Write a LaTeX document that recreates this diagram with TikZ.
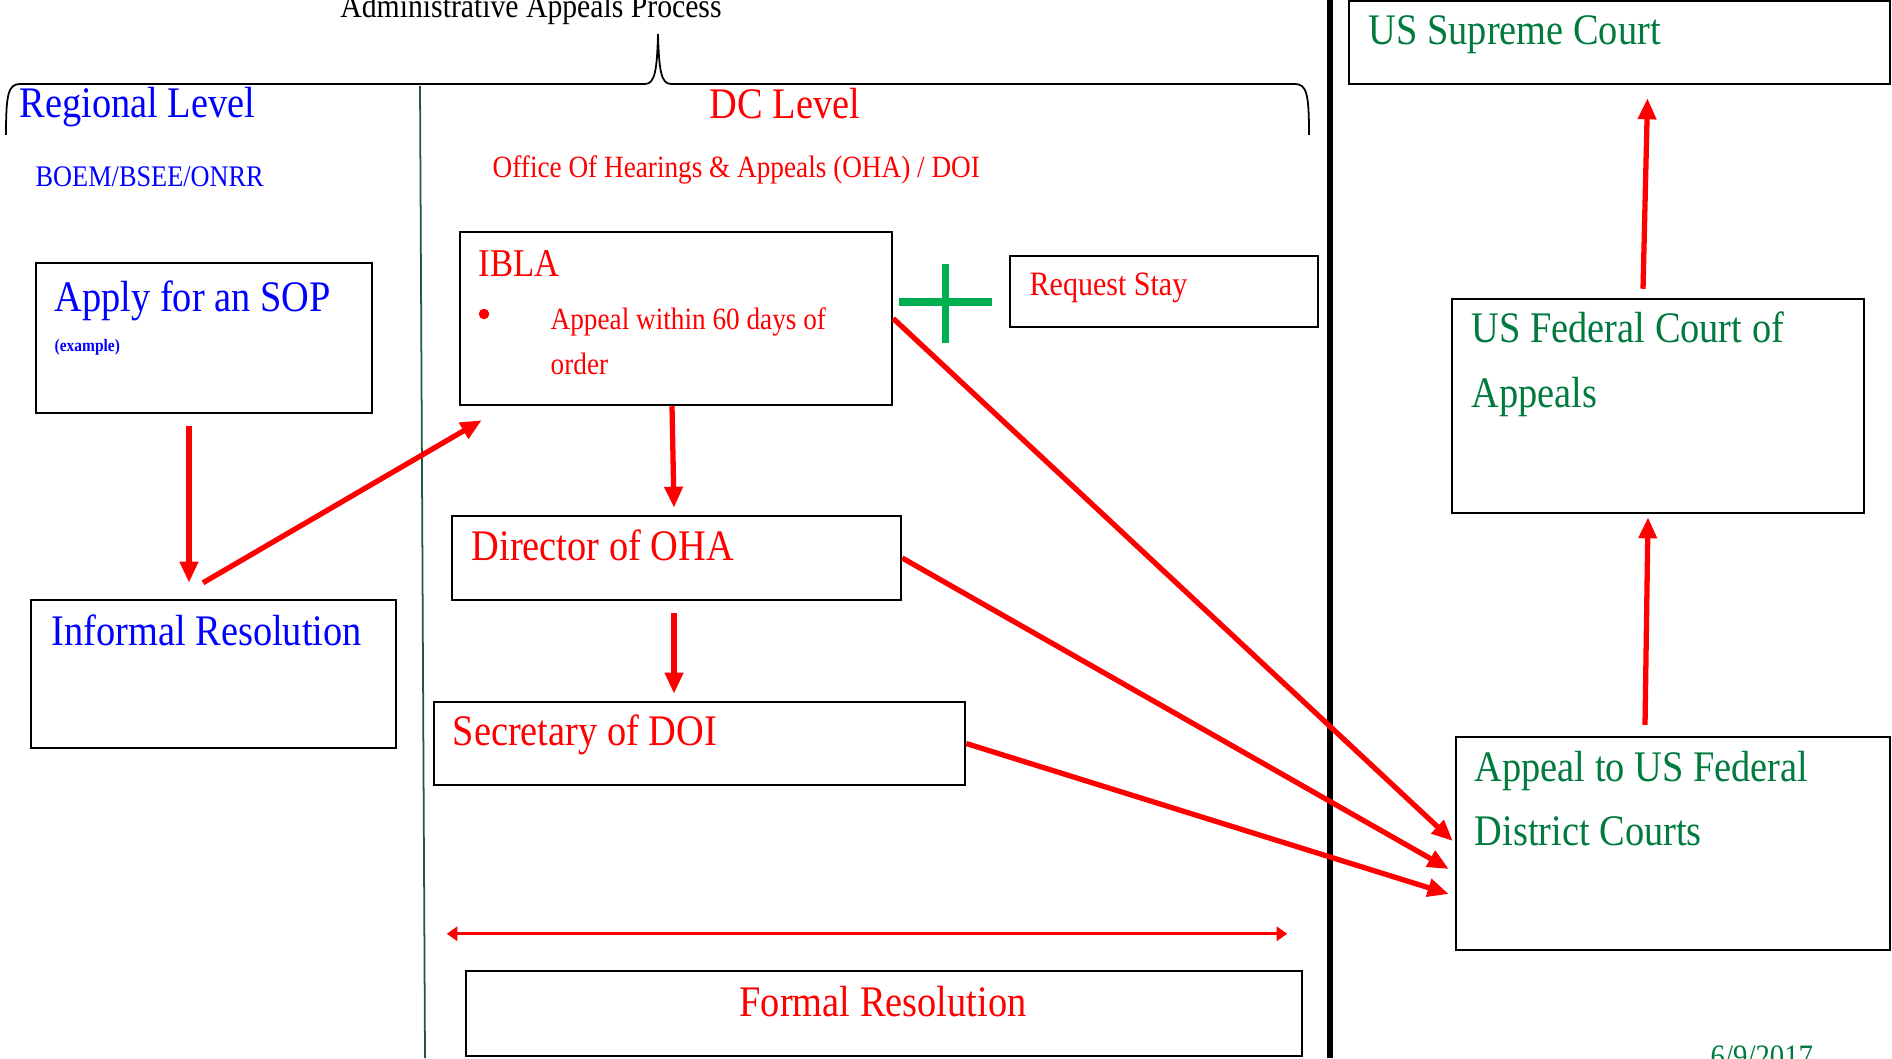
\documentclass[tikz,border=0pt]{standalone}
\usepackage{fontspec}
\setmainfont{Liberation Serif}[FakeStretch=0.88]
\usetikzlibrary{arrows.meta,calc,fit}
\definecolor{regblue}{RGB}{0,0,255}
\definecolor{dcred}{RGB}{255,0,0}
\definecolor{courtgreen}{RGB}{0,122,61}
\definecolor{plusgreen}{RGB}{0,176,80}
\definecolor{rulegreen}{RGB}{30,90,60}
\newcommand{\boxnode}[5]{
  % box from its top left to its bottom right corner
  \node[box, fit={(#2, #3) (#4, #5)}] (#1) {};
}

\begin{document}
\begin{tikzpicture}[x=0.01cm, y=-0.01cm,
    box/.style={draw=black, line width=0.7pt, inner sep=0pt},
    bigtext/.style={font=\fontsize{12.4}{15}\selectfont, anchor=base west, inner sep=0pt},
    midtext/.style={font=\fontsize{8.8}{11}\selectfont, anchor=base west, inner sep=0pt},
    flow/.style={dcred, line width=1.5pt, -{Triangle[length=6pt,width=5pt]}},
    span/.style={dcred, line width=0.9pt, {Triangle[length=3pt,width=4pt]}-{Triangle[length=3pt,width=4pt]}}]
	\useasboundingbox (0, 0) rectangle (1892, 1058);
	
	% brace and dividing lines
	\draw[line width=0.5pt] (6, 135) .. controls (6, 95) and (8, 84) .. (20, 84) -- (645, 84)
	  .. controls (655, 84) and (657, 70) .. (658, 34) .. controls (659, 70) and (661, 84) .. (671, 84)
	  -- (1295, 84) .. controls (1307, 84) and (1309, 95) .. (1309, 135);
	\draw[rulegreen, line width=0.5pt] (420, 86) -- (425, 1058);
	\draw[line width=1.9pt] (1330, 0) -- (1330, 1058);
	
	\node[midtext, anchor=base, font=\fontsize{9.6}{11}\selectfont] (title) at (531, 18) {Administrative Appeals Process};
	\node[bigtext, text=regblue] (regional) at (19, 118) {Regional Level};
	\node[bigtext, text=dcred] (dclevel) at (709, 119) {DC Level};
	\node[midtext, text=regblue, font=\fontsize{8.5}{11}\selectfont] (boem) at (35, 187) {BOEM/BSEE/ONRR};
	\node[midtext, text=dcred] (oha) at (492, 178) {Office Of Hearings \& Appeals (OHA) / DOI};
	
	% regional level
	\boxnode{apply}{36}{263}{372}{413}
	\node[bigtext, text=regblue] (applytxt) at (54, 311) {Apply for an SOP};
	\node[midtext, text=regblue, font=\fontsize{5}{6}\selectfont\bfseries] (example) at (54, 351) {(example)};
	\boxnode{informal}{31}{600}{396}{748}
	\node[bigtext, text=regblue] (informaltxt) at (51, 645) {Informal Resolution};
	
	% dc level
	\boxnode{ibla}{460}{232}{892}{405}
	\node[bigtext, text=dcred, font=\fontsize{11.2}{14}\selectfont] (iblatxt) at (478, 277) {IBLA};
	\node[circle, fill=dcred, inner sep=0pt, minimum size=3pt] (bullet) at (484, 314) {};
	\node[midtext, text=dcred] (iblaline1) at (550, 330) {Appeal within 60 days of};
	\node[midtext, text=dcred] (iblaline2) at (550, 374) {order};
	\boxnode{stay}{1010}{256}{1318}{327}
	\node[midtext, text=dcred, font=\fontsize{9.7}{11}\selectfont] (staytxt) at (1029, 295) {Request Stay};
	\draw[plusgreen, line width=2pt] (899, 302) -- (992, 302);
	\draw[plusgreen, line width=2pt] (945, 264) -- (945, 343);
	\boxnode{director}{452}{516}{901}{600}
	\node[bigtext, text=dcred] (directortxt) at (471, 560) {Director of OHA};
	\boxnode{secretary}{434}{702}{965}{785}
	\node[bigtext, text=dcred] (secretarytxt) at (452, 745) {Secretary of DOI};
	\boxnode{formal}{466}{971}{1302}{1056}
	\node[bigtext, text=dcred, anchor=base] (formaltxt) at (883, 1016) {Formal Resolution};
	\coordinate (spanl) at ($(formal.north west) + (-18, -36)$);
	\coordinate (spanr) at ($(formal.north east) + (-16, -36)$);
	\draw[span] (spanl) -- (spanr);
	
	% federal courts
	\boxnode{supreme}{1349}{1}{1890}{84}
	\node[bigtext, text=courtgreen] (supremetxt) at (1368, 45) {US Supreme Court};
	\boxnode{appeals}{1452}{299}{1864}{513}
	\node[bigtext, text=courtgreen] (appeals1) at (1471, 343) {US Federal Court of};
	\node[bigtext, text=courtgreen] (appeals2) at (1471, 407) {Appeals};
	\boxnode{district}{1456}{737}{1890}{950}
	\node[bigtext, text=courtgreen] (district1) at (1474, 781) {Appeal to US Federal};
	\node[bigtext, text=courtgreen] (district2) at (1474, 845) {District Courts};
	\node[midtext, text=courtgreen, font=\fontsize{9.3}{11}\selectfont] (date) at (1710, 1067) {6/9/2017};
	
	\draw[flow] ($(apply.south) + (-15, 12)$) -- ($(informal.north) + (-24.5, -16)$);
	\draw[flow] ($(informal.north) + (-10.5, -16)$) -- ($(ibla.south west) + (23, 14)$);
	\draw[flow] ($(ibla.south) + (-4, 0)$) -- ($(director.north) + (-2.5, -7)$);
	\draw[flow] ($(director.south) + (-2.5, 12)$) -- ($(secretary.north) + (-25.5, -7)$);
	\draw[flow] (ibla.east) -- ($(district.west) + (-2, -2.5)$);
	\draw[flow] (director.east) -- ($(district.west) + (-6, 25.5)$);
	\draw[flow] (secretary.east) -- ($(district.west) + (-6, 50.5)$);
	\draw[flow] ($(district.north) + (-28, -11)$) -- ($(appeals.south) + (-10, 3)$);
	\draw[flow] ($(appeals.north) + (-15, -9)$) -- ($(supreme.south) + (28, 13)$);
\end{tikzpicture}
\end{document}
